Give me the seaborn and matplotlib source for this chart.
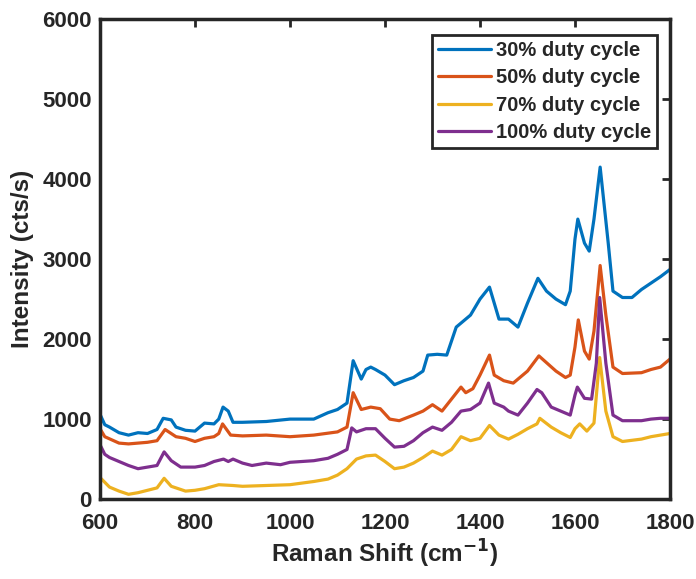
import numpy as np
import pandas as pd
import matplotlib
matplotlib.use("Agg")
import matplotlib.pyplot as plt
import seaborn as sns

labels = ["30% duty cycle", "50% duty cycle", "70% duty cycle", "100% duty cycle"]
colors = ["#0072BD", "#D95319", "#EDB120", "#7E2F8E"]

x30 = [600, 610, 620, 640, 660, 680, 700, 720, 733, 750, 760, 780, 800, 820, 840, 850, 859, 870, 880, 900, 950,
       1000, 1050, 1080, 1100, 1120, 1133, 1150, 1160, 1170, 1180, 1200, 1220, 1240, 1260, 1280, 1290, 1310, 1330,
       1350, 1360, 1380, 1400, 1420, 1440, 1460, 1480, 1500, 1522, 1540, 1560, 1580, 1590, 1600, 1606, 1620, 1630,
       1640, 1653, 1670, 1680, 1700, 1720, 1740, 1760, 1780, 1800]
y30 = [1060, 930, 900, 830, 800, 830, 820, 870, 1010, 990, 900, 860, 850, 950, 940, 1000, 1150, 1100, 960, 960, 970,
       1000, 1000, 1080, 1120, 1200, 1730, 1500, 1620, 1650, 1620, 1550, 1430, 1480, 1520, 1600, 1800, 1810, 1800,
       2150, 2200, 2300, 2500, 2650, 2250, 2250, 2150, 2450, 2760, 2600, 2500, 2430, 2600, 3250, 3500, 3200, 3100,
       3500, 4150, 3200, 2600, 2520, 2520, 2620, 2700, 2780, 2870]

x50 = [600, 610, 640, 660, 700, 720, 737, 760, 780, 800, 820, 840, 850, 858, 875, 900, 950, 1000, 1050, 1100, 1120,
       1133, 1150, 1170, 1190, 1210, 1230, 1260, 1280, 1300, 1320, 1340, 1360, 1370, 1385, 1400, 1420, 1430, 1450,
       1470, 1500, 1524, 1560, 1580, 1590, 1600, 1607, 1620, 1630, 1640, 1653, 1665, 1680, 1700, 1740, 1760, 1780,
       1800]
y50 = [880, 780, 700, 690, 710, 730, 870, 780, 760, 720, 760, 780, 820, 940, 800, 790, 800, 780, 800, 840, 900,
       1330, 1120, 1150, 1130, 1000, 980, 1050, 1100, 1180, 1100, 1250, 1400, 1330, 1380, 1550, 1800, 1550, 1480,
       1450, 1600, 1790, 1600, 1520, 1550, 1900, 2240, 1850, 1750, 2100, 2920, 2300, 1650, 1570, 1580, 1620, 1650,
       1750]

x70 = [600, 620, 640, 660, 680, 700, 720, 735, 750, 780, 800, 820, 850, 880, 900, 950, 1000, 1050, 1080, 1100, 1120,
       1140, 1160, 1180, 1200, 1220, 1240, 1260, 1280, 1300, 1320, 1340, 1360, 1380, 1400, 1420, 1440, 1460, 1480,
       1500, 1520, 1526, 1550, 1570, 1590, 1600, 1610, 1625, 1640, 1652, 1665, 1680, 1700, 1740, 1760, 1780, 1800]
y70 = [270, 150, 100, 60, 80, 110, 140, 260, 160, 100, 110, 130, 180, 170, 160, 170, 180, 220, 250, 300, 380,
       500, 540, 550, 470, 380, 400, 450, 520, 600, 550, 620, 780, 730, 760, 920, 800, 750, 810,
       880, 940, 1010, 900, 830, 770, 880, 940, 850, 950, 1770, 1100, 780, 720, 750, 780, 800, 820]

x100 = [600, 610, 620, 640, 660, 680, 700, 720, 735, 750, 770, 800, 820, 840, 860, 870, 880, 900, 920, 950, 980,
        1000, 1050, 1080, 1100, 1120, 1130, 1140, 1160, 1180, 1200, 1220, 1240, 1260, 1280, 1300, 1320, 1340, 1360,
        1380, 1400, 1418, 1430, 1450, 1460, 1480, 1500, 1520, 1530, 1550, 1570, 1590, 1600, 1605, 1620, 1635, 1645,
        1652, 1665, 1680, 1700, 1740, 1760, 1780, 1800]
y100 = [680, 560, 520, 470, 420, 380, 400, 420, 590, 480, 400, 400, 420, 470, 500, 470, 500, 450, 420, 450, 430,
        460, 480, 510, 560, 620, 890, 840, 880, 880, 760, 650, 660, 730, 830, 900, 860, 960, 1100,
        1120, 1200, 1450, 1200, 1150, 1100, 1050, 1200, 1370, 1330, 1150, 1100, 1050, 1300, 1400, 1260, 1250, 1700,
        2520, 1700, 1050, 980, 980, 1000, 1010, 1010]

frames = []
for lab, xs, ys in zip(labels, [x30, x50, x70, x100], [y30, y50, y70, y100]):
    frames.append(pd.DataFrame({"shift": xs, "intensity": ys, "series": lab}))
df = pd.concat(frames, ignore_index=True)

sns.set_style("white")
plt.rcParams["font.family"] = ["Liberation Sans", "DejaVu Sans"]
plt.rcParams["font.weight"] = "bold"
plt.rcParams["mathtext.default"] = "bf"

fig = plt.figure(figsize=(6.96, 5.79), dpi=100)
ax = fig.add_axes([0.1437, 0.138, 0.8189, 0.829])

sns.lineplot(data=df, x="shift", y="intensity", hue="series", hue_order=labels,
             palette=colors, estimator=None, sort=True, linewidth=2.3, ax=ax)

ax.set_xlim(600, 1800)
ax.set_ylim(0, 6000)
ax.set_xticks([600, 800, 1000, 1200, 1400, 1600, 1800])
ax.set_yticks([0, 1000, 2000, 3000, 4000, 5000, 6000])
ax.tick_params(direction="in", length=6, width=2, top=True, right=True,
               labelsize=16, colors="#262626")
ax.tick_params(axis="y", pad=6)
ax.tick_params(axis="x", pad=10)
for lbl in ax.get_xticklabels() + ax.get_yticklabels():
    lbl.set_fontweight("bold")
for sp in ax.spines.values():
    sp.set_linewidth(2.5)
    sp.set_color("#262626")
    sp.set_visible(True)

ax.set_xlabel("Raman Shift (cm$^{\\mathbf{-1}}$)", fontsize=17.5, fontweight="bold", color="#262626", labelpad=3)
ax.set_ylabel("Intensity (cts/s)", fontsize=17.5, fontweight="bold", color="#262626", labelpad=6)

leg = ax.legend(loc="upper right", bbox_to_anchor=(0.977, 0.967), frameon=True, fancybox=False,
                prop={"weight": "bold", "size": 14.5}, handlelength=2.6, handletextpad=0.25,
                labelspacing=0.42, borderpad=0.3, borderaxespad=0.0)
leg.get_frame().set_edgecolor("#262626")
leg.get_frame().set_linewidth(2)
leg.get_frame().set_alpha(1)
for line in leg.get_lines():
    line.set_linewidth(2.3)

fig.savefig("out.png", dpi=100)
